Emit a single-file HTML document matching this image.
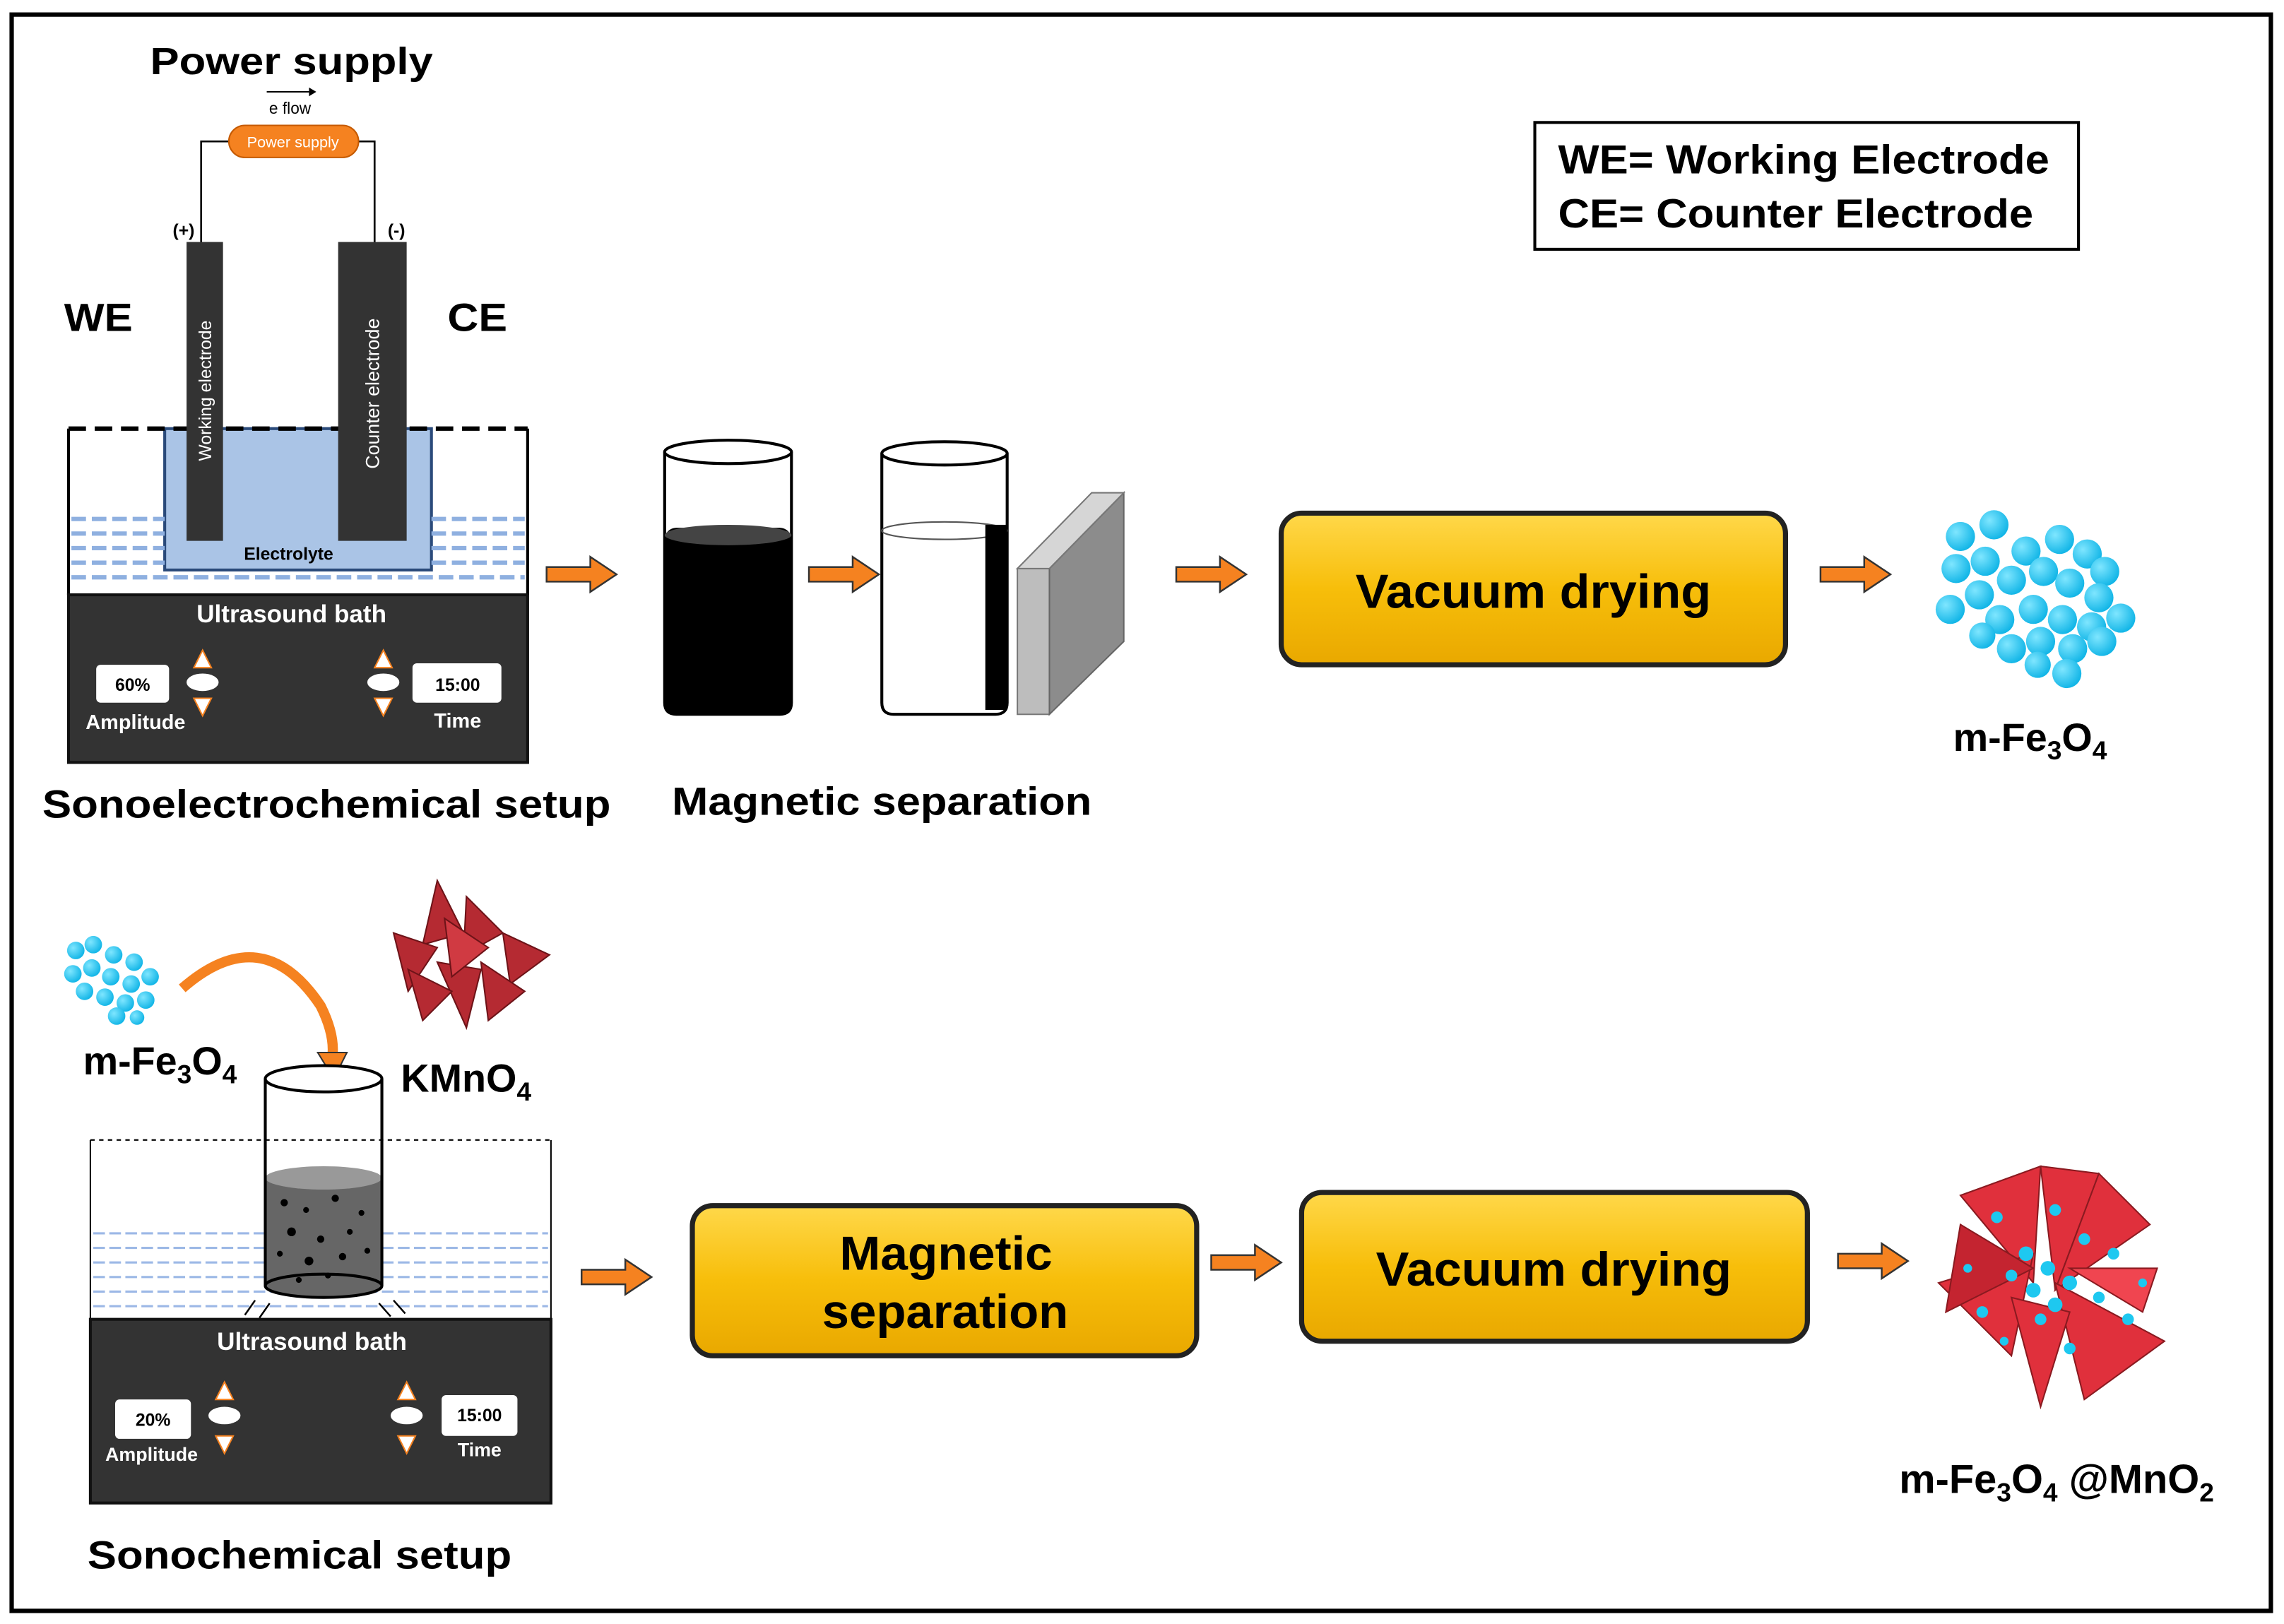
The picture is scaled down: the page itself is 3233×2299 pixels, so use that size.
<!DOCTYPE html>
<html><head><meta charset="utf-8"><style>html,body{margin:0;padding:0;background:#fff}svg{display:block}text{font-family:"Liberation Sans",sans-serif}</style></head>
<body>
<svg width="3233" height="2299" viewBox="0 0 1567 1114" preserveAspectRatio="none" xmlns="http://www.w3.org/2000/svg">
<defs>
<linearGradient id="yg" x1="0" y1="0" x2="0" y2="1"><stop offset="0" stop-color="#ffd84a"/><stop offset="0.5" stop-color="#f7be0a"/><stop offset="1" stop-color="#e9a800"/></linearGradient>
<radialGradient id="cy" cx="0.35" cy="0.35" r="0.7"><stop offset="0" stop-color="#7fe6ff"/><stop offset="1" stop-color="#0fb4e6"/></radialGradient>
<g id="arr"><polygon points="0,-5 30,-5 30,-12 48,0 30,12 30,5 0,5" fill="#f58220" stroke="#333" stroke-width="1.2"/></g>
</defs>
<rect x="8" y="10" width="1550" height="1095" fill="#fff" stroke="#000" stroke-width="3"/>

<text x="103" y="51" font-size="26" font-weight="bold" textLength="194" lengthAdjust="spacingAndGlyphs">Power supply</text>
<line x1="183" y1="63" x2="212" y2="63" stroke="#000" stroke-width="1"/><polygon points="212,60 217,63 212,66"/>
<text x="199" y="78" font-size="11" text-anchor="middle">e flow</text>
<polyline points="157,97 138,97 138,166" fill="none" stroke="#000" stroke-width="1.3"/>
<polyline points="246,97 257,97 257,166" fill="none" stroke="#000" stroke-width="1.3"/>
<rect x="157" y="86" width="89" height="22" rx="11" fill="#f58220" stroke="#c55a00"/>
<text x="201" y="101" font-size="10.5" fill="#fff" text-anchor="middle">Power supply</text>
<text x="126" y="162" font-size="12" font-weight="bold" text-anchor="middle">(+)</text>
<text x="272" y="162" font-size="12" font-weight="bold" text-anchor="middle">(-)</text>
<text x="44" y="227" font-size="27" font-weight="bold" textLength="47" lengthAdjust="spacingAndGlyphs">WE</text>
<text x="307" y="227" font-size="27" font-weight="bold" textLength="41" lengthAdjust="spacingAndGlyphs">CE</text>
<rect x="113" y="294" width="183" height="97" fill="#aac4e6" stroke="#2a4a7a" stroke-width="2"/>
<g stroke="#8fb0e0" stroke-width="3" stroke-dasharray="10,4">
<line x1="49" y1="356" x2="113" y2="356"/><line x1="49" y1="366" x2="113" y2="366"/><line x1="49" y1="376" x2="113" y2="376"/><line x1="49" y1="386" x2="113" y2="386"/><line x1="49" y1="396" x2="360" y2="396"/>
<line x1="296" y1="356" x2="360" y2="356"/><line x1="296" y1="366" x2="360" y2="366"/><line x1="296" y1="376" x2="360" y2="376"/><line x1="296" y1="386" x2="360" y2="386"/>
</g>
<line x1="47" y1="294" x2="362" y2="294" stroke="#000" stroke-width="3" stroke-dasharray="12,6"/>
<line x1="47" y1="294" x2="47" y2="408" stroke="#000" stroke-width="2"/>
<line x1="362" y1="294" x2="362" y2="408" stroke="#000" stroke-width="2"/>
<rect x="128" y="166" width="25" height="205" fill="#333"/>
<rect x="232" y="166" width="47" height="205" fill="#333"/>
<text transform="translate(145,268) rotate(-90)" font-size="12" fill="#fff" text-anchor="middle">Working electrode</text>
<text transform="translate(260,270) rotate(-90)" font-size="13" fill="#fff" text-anchor="middle">Counter electrode</text>
<text x="198" y="384" font-size="12" font-weight="bold" text-anchor="middle">Electrolyte</text>
<rect x="47" y="408" width="315" height="115" fill="#333" stroke="#111" stroke-width="2"/>
<text x="200" y="427" font-size="17" font-weight="bold" fill="#fff" text-anchor="middle">Ultrasound bath</text>
<rect x="66" y="456" width="50" height="26" rx="3" fill="#fff"/>
<text x="91" y="474" font-size="12" font-weight="bold" text-anchor="middle">60%</text>
<text x="93" y="500" font-size="14" font-weight="bold" fill="#fff" text-anchor="middle">Amplitude</text>
<polygon points="139,446 133,458 145,458" fill="#fff" stroke="#f58220"/><ellipse cx="139" cy="468" rx="11" ry="6" fill="#fff"/><polygon points="133,479 145,479 139,491" fill="#fff" stroke="#f58220"/>
<polygon points="263,446 257,458 269,458" fill="#fff" stroke="#f58220"/><ellipse cx="263" cy="468" rx="11" ry="6" fill="#fff"/><polygon points="257,479 269,479 263,491" fill="#fff" stroke="#f58220"/>
<rect x="283" y="455" width="61" height="27" rx="3" fill="#fff"/>
<text x="314" y="474" font-size="12" font-weight="bold" text-anchor="middle">15:00</text>
<text x="314" y="499" font-size="14" font-weight="bold" fill="#fff" text-anchor="middle">Time</text>
<text x="29" y="561" font-size="27" font-weight="bold" textLength="390" lengthAdjust="spacingAndGlyphs">Sonoelectrochemical setup</text>

<use href="#arr" x="375" y="394"/>
<rect x="456" y="362" width="87" height="128" rx="8" fill="#000"/>
<path d="M456,310 V482 Q456,490 464,490 H535 Q543,490 543,482 V310" fill="none" stroke="#000" stroke-width="2"/>
<ellipse cx="499.5" cy="310" rx="43.5" ry="8" fill="#fff" stroke="#000" stroke-width="2"/>
<ellipse cx="499.5" cy="367" rx="43.5" ry="7" fill="#444"/>
<use href="#arr" x="555" y="394"/>
<path d="M605,311 V482 Q605,490 613,490 H683 Q691,490 691,482 V311" fill="#fff" stroke="#000" stroke-width="2"/>
<ellipse cx="648" cy="311" rx="43" ry="8" fill="#fff" stroke="#000" stroke-width="2"/>
<ellipse cx="648" cy="364" rx="43" ry="6" fill="none" stroke="#555" stroke-width="1"/>
<rect x="676" y="360" width="15" height="127" fill="#000"/>
<polygon points="698,390 720,390 720,490 698,490" fill="#bdbdbd" stroke="#777"/>
<polygon points="720,390 771,338 771,440 720,490" fill="#8c8c8c" stroke="#666"/>
<polygon points="698,390 749,338 771,338 720,390" fill="#d6d6d6" stroke="#777"/>
<text x="461" y="559" font-size="27" font-weight="bold" textLength="288" lengthAdjust="spacingAndGlyphs">Magnetic separation</text>
<use href="#arr" x="807" y="394"/>
<rect x="879" y="352" width="346" height="104" rx="14" fill="url(#yg)" stroke="#222" stroke-width="3.5"/>
<text x="930" y="417" font-size="33" font-weight="bold" textLength="244" lengthAdjust="spacingAndGlyphs">Vacuum drying</text>
<use href="#arr" x="1249" y="394"/>
<g fill="url(#cy)">
<circle cx="1345" cy="368" r="10"/><circle cx="1368" cy="360" r="10"/><circle cx="1390" cy="378" r="10"/><circle cx="1413" cy="370" r="10"/><circle cx="1432" cy="380" r="10"/><circle cx="1444" cy="392" r="10"/>
<circle cx="1342" cy="390" r="10"/><circle cx="1362" cy="385" r="10"/><circle cx="1380" cy="398" r="10"/><circle cx="1402" cy="392" r="10"/><circle cx="1420" cy="400" r="10"/><circle cx="1440" cy="410" r="10"/>
<circle cx="1338" cy="418" r="10"/><circle cx="1358" cy="408" r="10"/><circle cx="1372" cy="425" r="10"/><circle cx="1395" cy="418" r="10"/><circle cx="1415" cy="425" r="10"/><circle cx="1435" cy="430" r="10"/><circle cx="1455" cy="424" r="10"/>
<circle cx="1380" cy="445" r="10"/><circle cx="1400" cy="440" r="10"/><circle cx="1422" cy="445" r="10"/><circle cx="1442" cy="440" r="10"/><circle cx="1418" cy="462" r="10"/><circle cx="1398" cy="456" r="9"/><circle cx="1360" cy="436" r="9"/>
</g>
<text x="1340" y="515" font-size="27" font-weight="bold">m-Fe<tspan font-size="18" dy="6">3</tspan><tspan dy="-6">O</tspan><tspan font-size="18" dy="6">4</tspan></text>
<rect x="1053" y="84" width="373" height="87" fill="#fff" stroke="#000" stroke-width="2"/>
<text x="1069" y="119" font-size="28" font-weight="bold" textLength="337" lengthAdjust="spacingAndGlyphs">WE= Working Electrode</text>
<text x="1069" y="156" font-size="28" font-weight="bold" textLength="326" lengthAdjust="spacingAndGlyphs">CE= Counter Electrode</text>

<g fill="url(#cy)">
<circle cx="52" cy="652" r="6"/><circle cx="64" cy="648" r="6"/><circle cx="78" cy="655" r="6"/><circle cx="92" cy="660" r="6"/><circle cx="50" cy="668" r="6"/><circle cx="63" cy="664" r="6"/><circle cx="76" cy="670" r="6"/><circle cx="90" cy="675" r="6"/><circle cx="103" cy="670" r="6"/><circle cx="58" cy="680" r="6"/><circle cx="72" cy="684" r="6"/><circle cx="86" cy="688" r="6"/><circle cx="100" cy="686" r="6"/><circle cx="80" cy="697" r="6"/><circle cx="94" cy="698" r="5"/>
</g>
<g fill="#b52a32" stroke="#6d1318" stroke-width="1">
<polygon points="300,604 318,640 290,648"/><polygon points="320,615 345,640 318,655"/><polygon points="270,640 300,650 280,680"/><polygon points="345,640 377,655 350,675"/><polygon points="300,660 330,665 320,705"/><polygon points="330,660 360,680 335,700"/><polygon points="280,665 310,680 290,700"/><polygon points="305,630 335,650 310,670" fill="#d03a42"/>
</g>
<path d="M125,678 Q180,630 220,690 Q230,710 228,725" fill="none" stroke="#f58220" stroke-width="7"/>
<polygon points="218,722 238,722 229,740" fill="#f58220" stroke="#333"/>
<text x="57" y="737" font-size="27" font-weight="bold">m-Fe<tspan font-size="18" dy="6">3</tspan><tspan dy="-6">O</tspan><tspan font-size="18" dy="6">4</tspan></text>
<text x="275" y="749" font-size="27" font-weight="bold">KMnO<tspan font-size="18" dy="6">4</tspan></text>
<line x1="62" y1="782" x2="378" y2="782" stroke="#000" stroke-width="1" stroke-dasharray="3,3"/>
<line x1="62" y1="782" x2="62" y2="905" stroke="#000" stroke-width="1"/><line x1="378" y1="782" x2="378" y2="905" stroke="#000" stroke-width="1"/>
<g stroke="#9cb8e6" stroke-width="1.5" stroke-dasharray="8,3">
<line x1="64" y1="846" x2="376" y2="846"/><line x1="64" y1="856" x2="376" y2="856"/><line x1="64" y1="866" x2="376" y2="866"/><line x1="64" y1="876" x2="376" y2="876"/><line x1="64" y1="886" x2="376" y2="886"/><line x1="64" y1="896" x2="376" y2="896"/>
</g>
<rect x="182" y="808" width="80" height="74" fill="#666"/>
<ellipse cx="222" cy="882" rx="40" ry="8" fill="#666" stroke="#000" stroke-width="2"/>
<ellipse cx="222" cy="808" rx="40" ry="8" fill="#999"/>
<g fill="#000"><circle cx="195" cy="825" r="2.5"/><circle cx="210" cy="830" r="2"/><circle cx="230" cy="822" r="2.5"/><circle cx="248" cy="832" r="2"/><circle cx="200" cy="845" r="3"/><circle cx="220" cy="850" r="2.5"/><circle cx="240" cy="845" r="2"/><circle cx="192" cy="860" r="2"/><circle cx="212" cy="865" r="3"/><circle cx="235" cy="862" r="2.5"/><circle cx="252" cy="858" r="2"/><circle cx="225" cy="875" r="2"/><circle cx="205" cy="878" r="2"/></g>
<line x1="182" y1="740" x2="182" y2="882" stroke="#000" stroke-width="2"/><line x1="262" y1="740" x2="262" y2="882" stroke="#000" stroke-width="2"/>
<ellipse cx="222" cy="740" rx="40" ry="9" fill="#fff" stroke="#000" stroke-width="2"/>
<g stroke="#000" stroke-width="1.2"><line x1="175" y1="892" x2="168" y2="902"/><line x1="185" y1="894" x2="178" y2="904"/><line x1="260" y1="894" x2="268" y2="903"/><line x1="270" y1="892" x2="278" y2="901"/></g>
<rect x="62" y="905" width="316" height="126" fill="#333" stroke="#111" stroke-width="2"/>
<text x="214" y="926" font-size="17" font-weight="bold" fill="#fff" text-anchor="middle">Ultrasound bath</text>
<rect x="79" y="960" width="52" height="27" rx="3" fill="#fff"/>
<text x="105" y="978" font-size="12" font-weight="bold" text-anchor="middle">20%</text>
<text x="104" y="1002" font-size="13" font-weight="bold" fill="#fff" text-anchor="middle">Amplitude</text>
<polygon points="154,948 148,960 160,960" fill="#fff" stroke="#f58220"/><ellipse cx="154" cy="971" rx="11" ry="6" fill="#fff"/><polygon points="148,985 160,985 154,997" fill="#fff" stroke="#f58220"/>
<polygon points="279,948 273,960 285,960" fill="#fff" stroke="#f58220"/><ellipse cx="279" cy="971" rx="11" ry="6" fill="#fff"/><polygon points="273,985 285,985 279,997" fill="#fff" stroke="#f58220"/>
<rect x="303" y="957" width="52" height="28" rx="3" fill="#fff"/>
<text x="329" y="975" font-size="12" font-weight="bold" text-anchor="middle">15:00</text>
<text x="329" y="999" font-size="13" font-weight="bold" fill="#fff" text-anchor="middle">Time</text>
<text x="60" y="1076" font-size="27" font-weight="bold" textLength="291" lengthAdjust="spacingAndGlyphs">Sonochemical setup</text>
<use href="#arr" x="399" y="876"/>
<rect x="475" y="827" width="346" height="103" rx="14" fill="url(#yg)" stroke="#222" stroke-width="3.5"/>
<text x="576" y="871" font-size="33" font-weight="bold" textLength="146" lengthAdjust="spacingAndGlyphs">Magnetic</text>
<text x="564" y="911" font-size="33" font-weight="bold" textLength="169" lengthAdjust="spacingAndGlyphs">separation</text>
<use href="#arr" x="831" y="866"/>
<rect x="893" y="818" width="347" height="102" rx="14" fill="url(#yg)" stroke="#222" stroke-width="3.5"/>
<text x="944" y="882" font-size="33" font-weight="bold" textLength="244" lengthAdjust="spacingAndGlyphs">Vacuum drying</text>
<use href="#arr" x="1261" y="865"/>
<g fill="#e0303c" stroke="#8a1a20" stroke-width="1">
<polygon points="1345,820 1400,800 1395,880"/><polygon points="1400,800 1440,805 1410,885"/><polygon points="1440,805 1475,840 1410,885"/><polygon points="1330,880 1395,860 1380,930"/><polygon points="1410,880 1485,920 1430,960"/><polygon points="1380,890 1420,900 1400,965"/><polygon points="1345,840 1395,870 1335,900" fill="#c42430"/><polygon points="1420,870 1480,870 1470,900" fill="#f04550"/>
</g>
<g fill="#1ec8f0">
<circle cx="1370" cy="835" r="4"/><circle cx="1410" cy="830" r="4"/><circle cx="1430" cy="850" r="4"/><circle cx="1390" cy="860" r="5"/><circle cx="1405" cy="870" r="5"/><circle cx="1420" cy="880" r="5"/><circle cx="1395" cy="885" r="5"/><circle cx="1380" cy="875" r="4"/><circle cx="1440" cy="890" r="4"/><circle cx="1460" cy="905" r="4"/><circle cx="1360" cy="900" r="4"/><circle cx="1400" cy="905" r="4"/><circle cx="1420" cy="925" r="4"/><circle cx="1450" cy="860" r="4"/><circle cx="1375" cy="920" r="3"/><circle cx="1410" cy="895" r="5"/><circle cx="1470" cy="880" r="3"/><circle cx="1350" cy="870" r="3"/>
</g>
<text x="1303" y="1024" font-size="28" font-weight="bold">m-Fe<tspan font-size="18" dy="6">3</tspan><tspan dy="-6">O</tspan><tspan font-size="18" dy="6">4</tspan><tspan dy="-6"> @MnO</tspan><tspan font-size="18" dy="6">2</tspan></text>
</svg>
</body></html>
